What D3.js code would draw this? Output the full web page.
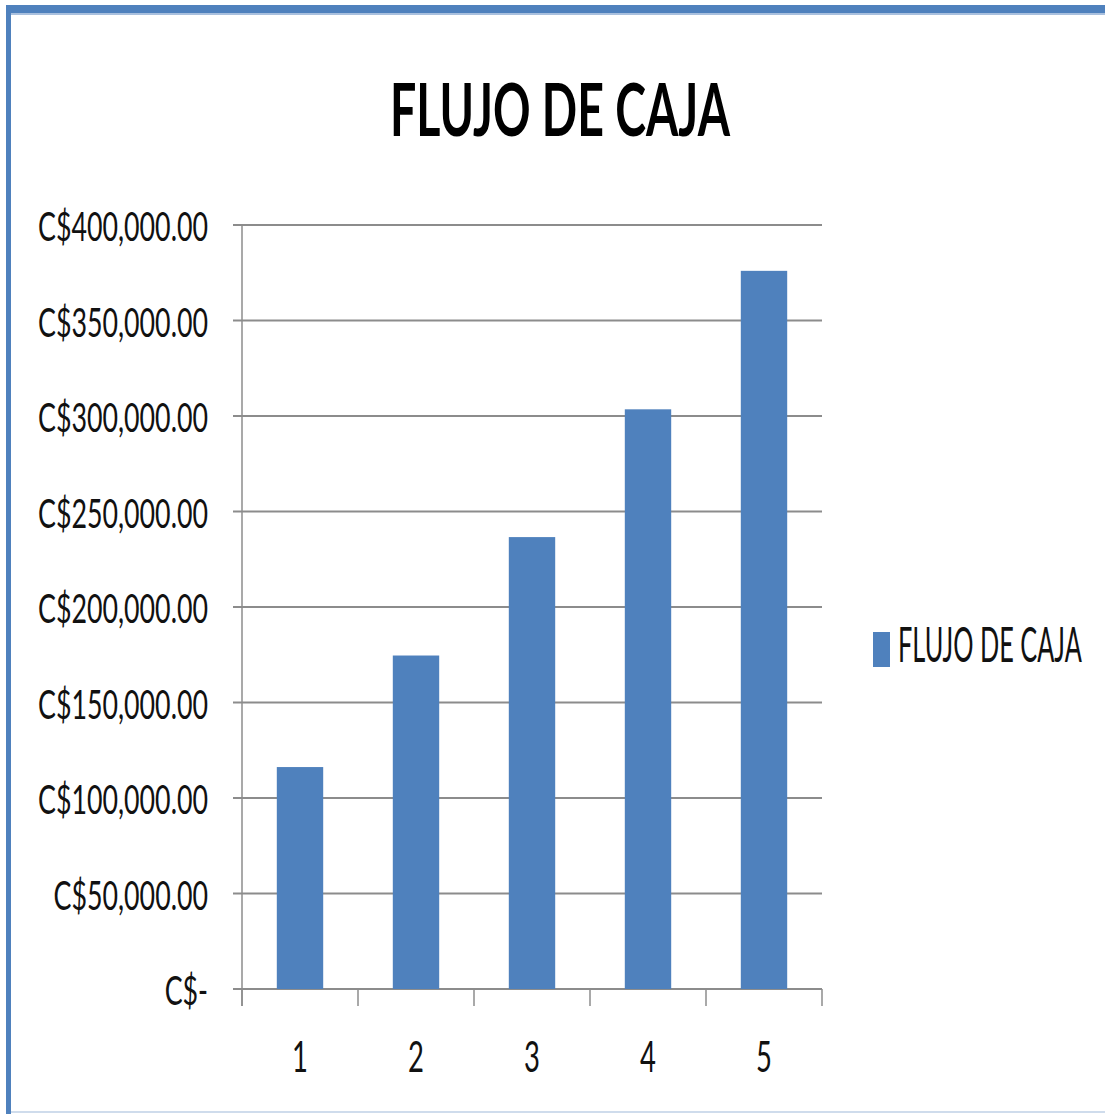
<!DOCTYPE html>
<html>
<head>
<meta charset="utf-8">
<script src="https://cdn.jsdelivr.net/npm/d3@7"></script>
<style>
  html, body { margin: 0; padding: 0; background: #fff; }
  svg { display: block; }
</style>
</head>
<body>
<div class="svg-chart"></div>
<script>
// chart values
const title = "FLUJO DE CAJA";
const seriesName = "FLUJO DE CAJA";
const categories = ["1", "2", "3", "4", "5"];
const values = [116200, 174600, 236600, 303500, 376000];
const yTicks = [0, 50000, 100000, 150000, 200000, 250000, 300000, 350000, 400000];

const width = 1105, height = 1114;
const color = "#4f81bd";
const gridColor = "#8c8c8c";
const fontFamily = "Lato, 'Open Sans', sans-serif";

const svg = d3.select(".svg-chart").append("svg")
    .attr("width", width)
    .attr("height", height);

// frame
svg.append("rect").attr("x", 6).attr("y", 5).attr("width", width).attr("height", 9).attr("fill", color);
svg.append("rect").attr("x", 6).attr("y", 13).attr("width", width).attr("height", 2).attr("fill", "#a9c0de");
svg.append("rect").attr("x", 6).attr("y", 5).attr("width", 5).attr("height", height).attr("fill", color);
svg.append("rect").attr("x", 11).attr("y", 1111).attr("width", width).attr("height", 2).attr("fill", "#cfdcec");

const plot = { left: 242, right: 822, top: 225, bottom: 989 };

let x = d3.scaleBand()
    .domain(categories)
    .range([plot.left, plot.right])
    .paddingInner(0.6)
    .paddingOuter(0.3);

let y = d3.scaleLinear()
    .domain([0, 400000])
    .range([plot.bottom, plot.top]);

const fmt = d3.format(",.2f");
const money = v => v === 0 ? "C$-" : "C$" + fmt(v);

// squeezed text helper (the picture is narrow)
function squeeze(sel, targetWidth) {
    const w = sel.node().getComputedTextLength();
    return targetWidth / w;
}

// gridlines
svg.append("g")
    .selectAll("line")
    .data(yTicks)
    .enter()
    .append("line")
    .attr("x1", plot.left - 9)
    .attr("x2", plot.right)
    .attr("y1", d => y(d))
    .attr("y2", d => y(d))
    .attr("stroke", gridColor)
    .attr("stroke-width", 2);

// y axis line
svg.append("line")
    .attr("x1", plot.left).attr("x2", plot.left)
    .attr("y1", plot.top).attr("y2", plot.bottom + 17)
    .attr("stroke", gridColor).attr("stroke-width", 1.5);

// category ticks at band edges
const edges = categories.map(c => x(c) - x.step() * x.paddingOuter()).concat([plot.right]);
svg.append("g")
    .selectAll("line")
    .data(edges)
    .enter()
    .append("line")
    .attr("x1", d => d).attr("x2", d => d)
    .attr("y1", plot.bottom).attr("y2", plot.bottom + 17)
    .attr("stroke", gridColor).attr("stroke-width", 1.5);

// bars
svg.append("g")
    .selectAll("rect")
    .data(values)
    .enter()
    .append("rect")
    .attr("x", (d, i) => x(categories[i]))
    .attr("y", d => y(d))
    .attr("width", x.bandwidth())
    .attr("height", d => plot.bottom - y(d))
    .attr("fill", color);

// y labels
const probe = svg.append("text").attr("font-family", fontFamily).attr("font-size", 41).text(money(400000));
const sxLabel = squeeze(probe, 170);
probe.remove();

svg.append("g")
    .selectAll("text")
    .data(yTicks)
    .enter()
    .append("text")
    .attr("transform", d => `translate(208,${y(d) + 16}) scale(${sxLabel},1)`)
    .attr("text-anchor", "end")
    .attr("font-family", fontFamily)
    .attr("font-size", 41)
    .attr("fill", "#111")
    .text(money);

// category labels
svg.append("g")
    .selectAll("text")
    .data(categories)
    .enter()
    .append("text")
    .attr("transform", d => `translate(${x(d) + x.bandwidth() / 2},1072) scale(${sxLabel},1)`)
    .attr("text-anchor", "middle")
    .attr("font-family", fontFamily)
    .attr("font-size", 42)
    .attr("fill", "#111")
    .text(d => d);

// title
const t = svg.append("text")
    .attr("font-family", fontFamily)
    .attr("font-weight", "bold")
    .attr("font-size", 72)
    .attr("text-anchor", "middle")
    .attr("fill", "#000")
    .text(title);
const sxTitle = squeeze(t, 340);
t.attr("transform", `translate(560,136) scale(${sxTitle},1)`);

// legend
svg.append("rect")
    .attr("x", 873).attr("y", 632)
    .attr("width", 17).attr("height", 35)
    .attr("fill", color);
const lg = svg.append("text")
    .attr("font-family", fontFamily)
    .attr("font-size", 48)
    .attr("fill", "#111")
    .text(seriesName);
const sxLegend = squeeze(lg, 184);
lg.attr("transform", `translate(898,662) scale(${sxLegend},1)`);
</script>
</body>
</html>
